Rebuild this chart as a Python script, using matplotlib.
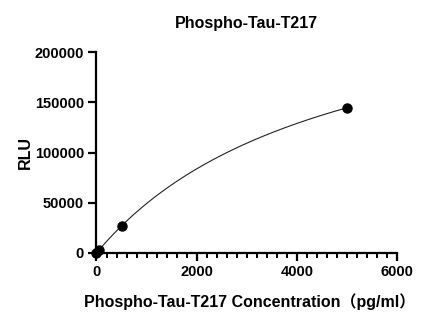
import numpy as np
import matplotlib
matplotlib.use("Agg")
import matplotlib.pyplot as plt
from matplotlib.ticker import MultipleLocator

# Data
conc = [0, 50, 500, 5000]          # pg/ml
rlu = [0, 2800, 27000, 144500]     # RLU

title = "Phospho-Tau-T217"
xlabel = "Phospho-Tau-T217 Concentration（pg/ml）"
ylabel = "RLU"
xticks = [0, 2000, 4000, 6000]
yticks = [0, 50000, 100000, 150000, 200000]

# Fit a saturation (hyperbolic) curve y = Vmax*x/(K+x) to the points
x = np.array(conc, float)
y = np.array(rlu, float)
best = None
for K in np.linspace(100, 20000, 4000):
    f = x / (K + x)
    vmax = (f @ y) / (f @ f)
    err = np.sum((vmax * f - y) ** 2)
    if best is None or err < best[0]:
        best = (err, K, vmax)
_, K, vmax = best
xc = np.linspace(0, max(conc), 400)
yc = vmax * xc / (K + xc)

fam = ["Liberation Sans", "Noto Sans CJK SC", "DejaVu Sans"]
plt.rcParams["font.family"] = fam
plt.rcParams["font.weight"] = "bold"

fig = plt.figure(figsize=(4.27, 3.28), dpi=100)
ax = fig.add_axes([96.5 / 427, (328 - 253) / 328, (397 - 96.5) / 427, (253 - 52) / 328])

ax.plot(xc, yc, color="#222222", lw=0.8, clip_on=False, zorder=2)
ax.plot(conc, rlu, "o", color="black", ms=6.5, clip_on=False, zorder=3)

ax.set_xlim(0, 6000)
ax.set_ylim(0, 200000)
ax.set_xticks(xticks)
ax.set_yticks(yticks)
ax.xaxis.set_minor_locator(MultipleLocator(200))

for s in ["top", "right"]:
    ax.spines[s].set_visible(False)
for s in ["left", "bottom"]:
    ax.spines[s].set_linewidth(1.6)

ax.tick_params(axis="both", which="major", length=6, width=1.6, labelsize=10.5, pad=3)
ax.tick_params(axis="x", which="minor", length=3.5, width=1.4)
for lab in ax.get_xticklabels() + ax.get_yticklabels():
    lab.set_fontweight("bold")

ax.set_title(title, fontsize=11.5, fontweight="bold", pad=17)
ax.set_xlabel(xlabel, fontsize=11.5, fontweight="bold", labelpad=10)
ax.xaxis.label.set_x(0.51)
ax.set_ylabel(ylabel, fontsize=11.5, fontweight="bold", labelpad=1)

fig.savefig("out.png", dpi=100)
